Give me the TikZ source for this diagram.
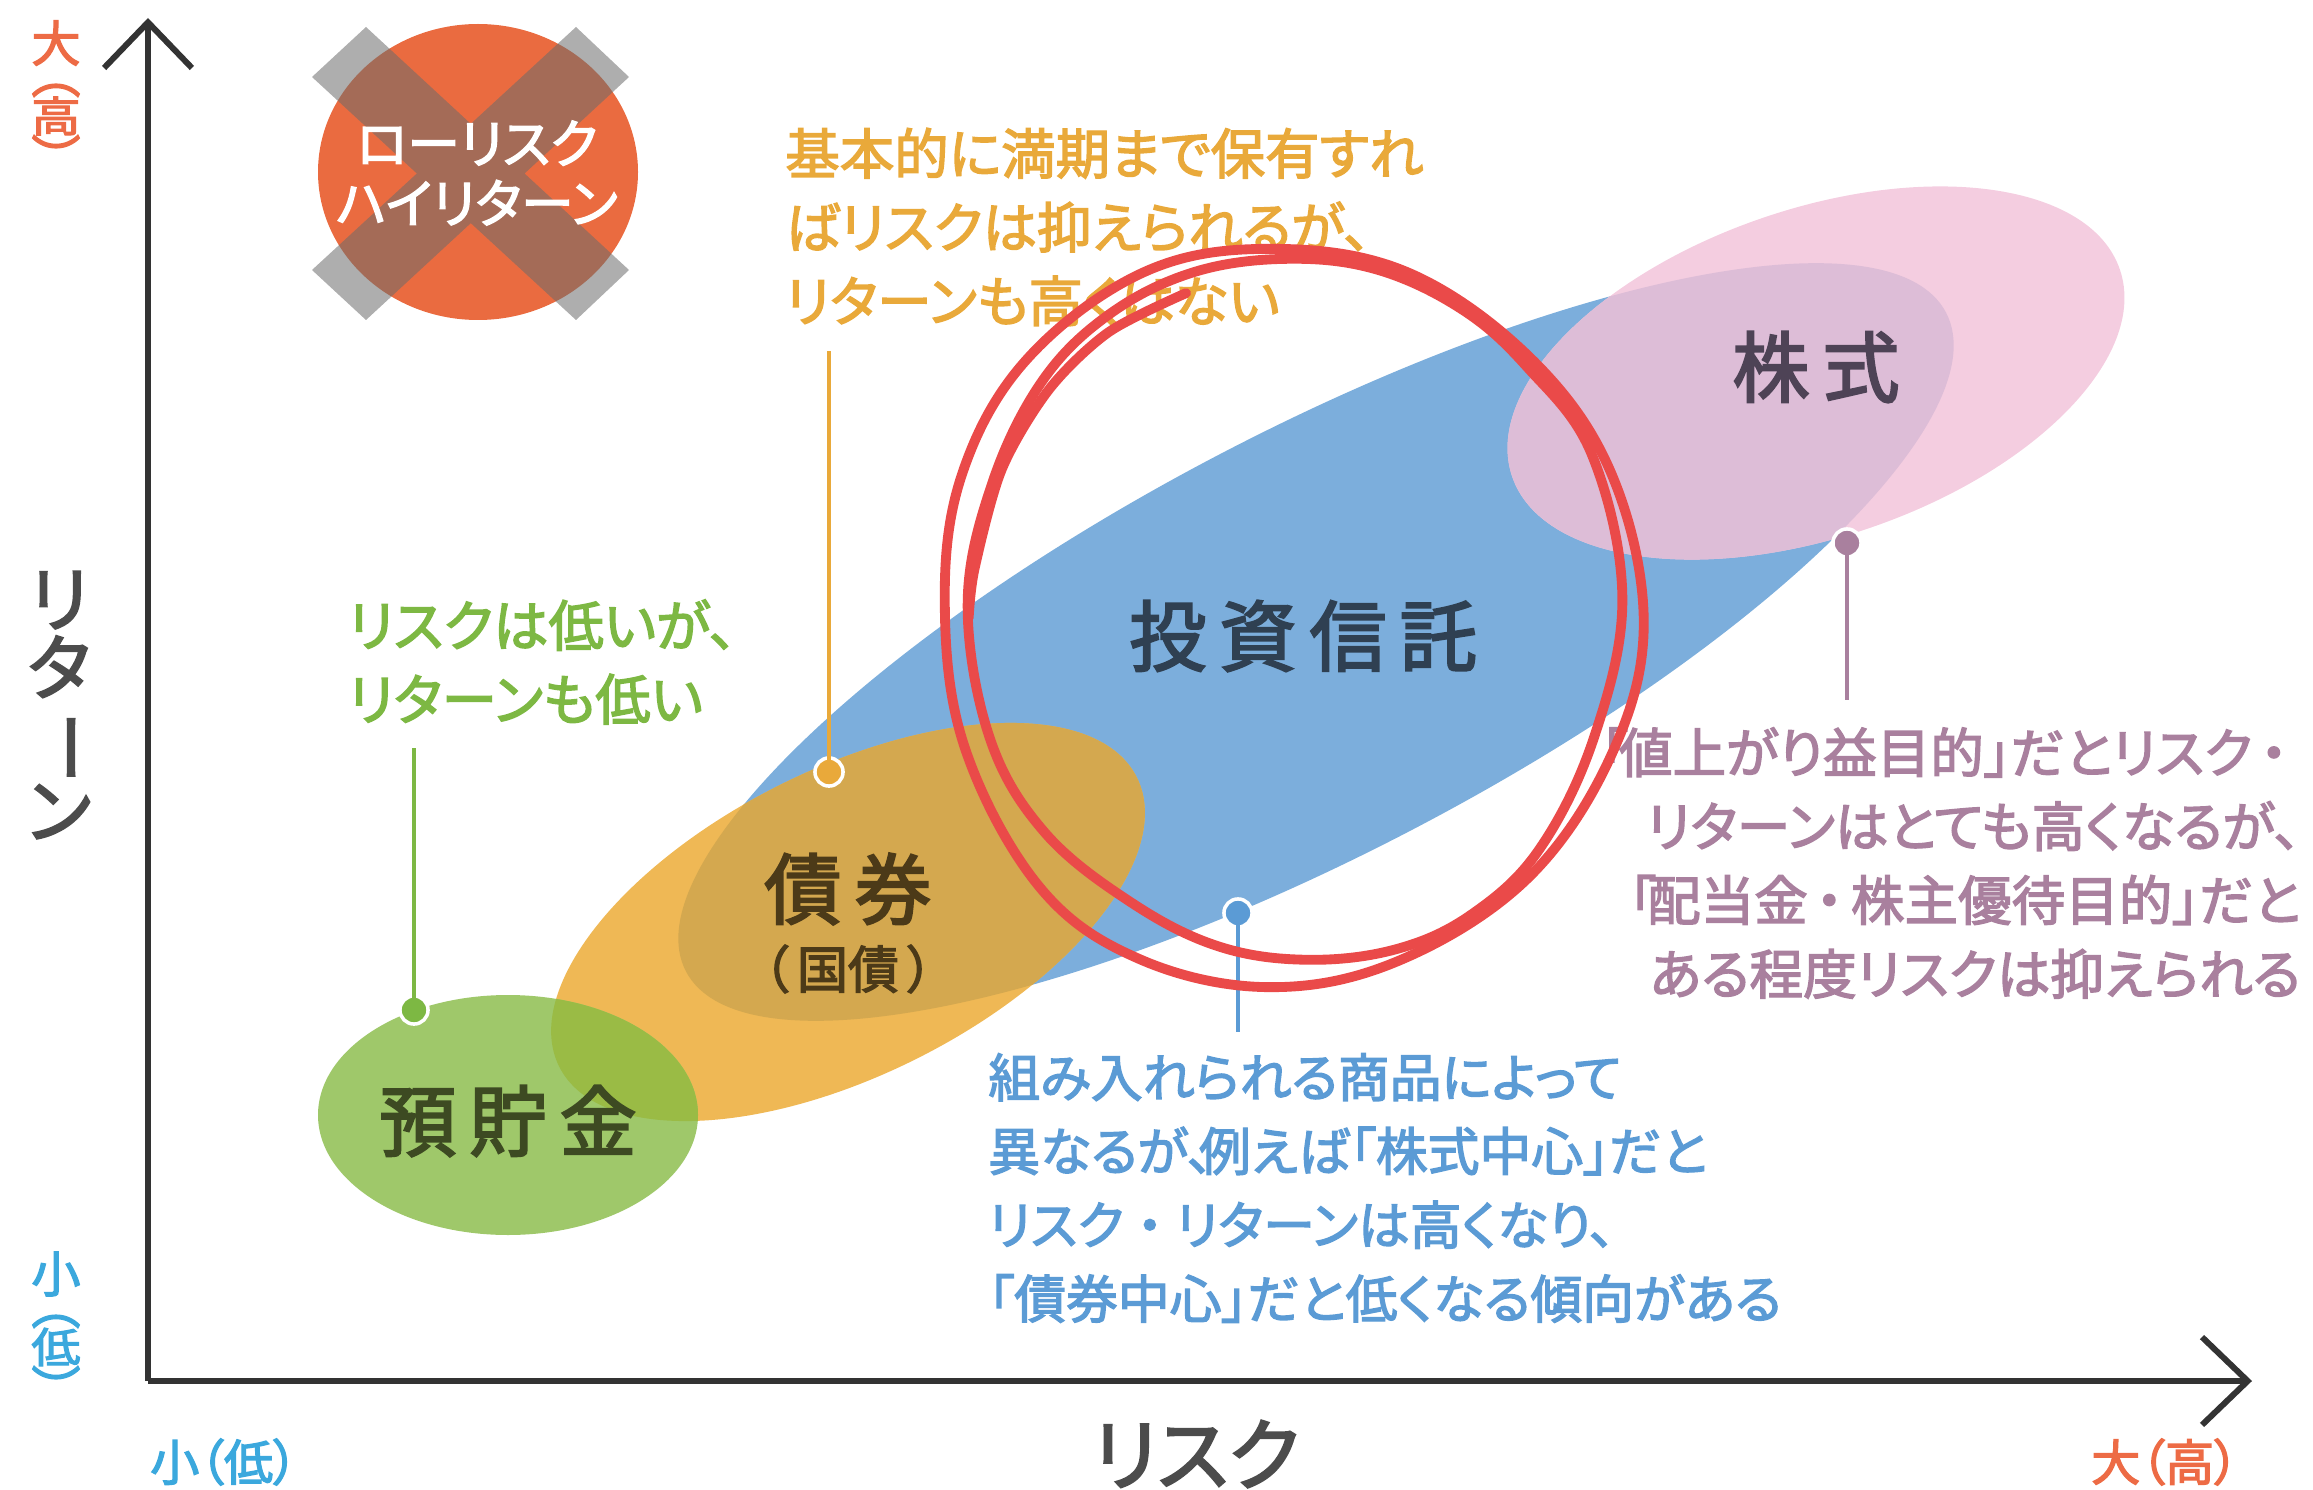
\documentclass[tikz,border=0pt]{standalone}
\usepackage{fontspec}
\usetikzlibrary{arrows.meta}
\setmainfont[RawFeature=+palt,FakeBold=2.6]{Noto Sans CJK JP}
\definecolor{trustblue}{HTML}{7CAEDC}
\definecolor{stockpink}{HTML}{F4CDE0}
\definecolor{stockover}{HTML}{DDBDD7}
\definecolor{bondorange}{HTML}{EFB855}
\definecolor{bondover}{HTML}{D4A84F}
\definecolor{savegreen}{HTML}{9FC86A}
\definecolor{saveover}{HTML}{9ABB45}
\definecolor{lowrisk}{HTML}{EA6B40}
\definecolor{circlered}{HTML}{EA4A49}
\definecolor{notegreen}{HTML}{7DB843}
\definecolor{noteorange}{HTML}{E9A93A}
\definecolor{noteblue}{HTML}{5B9BD5}
\definecolor{notepurple}{HTML}{A9809E}
\definecolor{highred}{HTML}{ED6B45}
\definecolor{lowblue}{HTML}{3BA8DD}
\definecolor{trustink}{HTML}{2F4052}
\definecolor{stockink}{HTML}{4E4356}
\definecolor{bondink}{HTML}{4C3A18}
\definecolor{saveink}{HTML}{3D4A22}
\newcommand{\trustshape}{(1316,642) ellipse [x radius=711,y radius=211,rotate=27.6]}
\newcommand{\stockshape}{(1816,373) ellipse [x radius=321,y radius=164,rotate=18.8]}
\newcommand{\bondshape}{(848,922) ellipse [x radius=323,y radius=153,rotate=26.6]}
\newcommand{\saveshape}{(508,1115) ellipse [x radius=190,y radius=120]}
\newcommand{\vparen}[1]{\rotatebox[origin=c]{-90}{#1}}
\newcommand{\dotmark}{{\addfontfeature{RawFeature=-palt}・}}
\tikzset{
  note/.style={inner sep=0pt,align=left,font=\fontsize{#1}{42}\selectfont},
  region/.style={inner sep=0pt,font=\fontsize{44}{46}\selectfont},
  scale label/.style={inner sep=0pt,font=\fontsize{28}{30}\selectfont},
  pin/.style={circle,inner sep=0pt,minimum size=16pt,line width=2pt,draw=white,fill=#1},
  pin line/.style={line width=2.4pt,#1},
  hand/.style={circlered,line width=5.6pt,line cap=round,line join=round}
}
\begin{document}
\begin{tikzpicture}[x=0.02cm,y=-0.02cm]
  \useasboundingbox (0,0) rectangle (2313,1490);

  % regions
  \fill[trustblue] \trustshape;
  \fill[stockpink] \stockshape;
  \begin{scope}
    \clip \stockshape;
    \fill[stockover] \trustshape;
  \end{scope}
  \fill[bondorange] \bondshape;
  \begin{scope}
    \clip \bondshape;
    \fill[bondover] \trustshape;
  \end{scope}
  \fill[savegreen] \saveshape;
  \begin{scope}
    \clip \saveshape;
    \fill[saveover] \bondshape;
  \end{scope}

  % crossed out corner
  \fill[lowrisk] (478,172) ellipse [x radius=160,y radius=148];
  \fill[black!58!white,fill opacity=0.55] (366,27) -- (312,77) -- (576,320) -- (629,270) -- cycle
    (576,27) -- (312,270) -- (366,320) -- (629,77) -- cycle;
  \node[inner sep=0pt,align=center,text=white,font=\fontsize{30}{34}\selectfont] (lowhigh) at (477,173) {ローリスク\\ハイリターン};

  % axes
  \coordinate (origin) at (148,1381);
  \coordinate (ytip) at (148,18);
  \coordinate (xtip) at (2252,1381);
  \draw[line width=3.4pt,black!80,-{Straight Barb[length=26pt,width=50pt,line width=3.4pt]}] (origin) -- (ytip);
  \draw[line width=3.4pt,black!80,-{Straight Barb[length=26pt,width=50pt,line width=3.4pt]}] (origin) -- (xtip);

  \node[scale label,text=highred] (high1) at (56,43) {大};
  \node[scale label,text=highred,rotate=-90] (high1a) at (56,85) {（};
  \node[scale label,text=highred,yscale=0.85] (high1b) at (56,116) {高};
  \node[scale label,text=highred,rotate=-90] (high1c) at (56,147) {）};
  \node[scale label,text=lowblue] (low1) at (56,1274) {小};
  \node[scale label,text=lowblue,rotate=-90] (low1a) at (56,1316) {（};
  \node[scale label,text=lowblue,yscale=0.85] (low1b) at (56,1347) {低};
  \node[scale label,text=lowblue,rotate=-90] (low1c) at (56,1378) {）};
  \node[scale label,text=lowblue] (low2) at (224,1462) {小（低）};
  \node[scale label,text=highred] (high2) at (2165,1462) {大（高）};
  \node[inner sep=0pt,align=center,text=black!70,font=\fontsize{41}{39}\selectfont] (returnlabel) at (59,705) {リ\\タ\\\vparen{ー}\\ン};
  \node[inner sep=0pt,text=black!70,font=\fontsize{45}{46}\selectfont] (risklabel) at (1196,1454) {リスク};

  % region names
  \node[region,text=trustink] (trust) at (1303,636) {投\,資\,信\,託};
  \node[region,text=stockink] (stock) at (1816,367) {株\,式};
  \node[region,text=bondink] (bond) at (848,889) {債\,券};
  \node[inner sep=0pt,text=bondink,font=\fontsize{29}{30}\selectfont] (bond2) at (848,969) {（\,国債\,）};
  \node[region,text=saveink] (save) at (508,1121) {預\,貯\,金};

  % notes
  \node[note=31.5,text=notegreen,anchor=west] (notegreen) at (348,662) {リスクは低いが、\\リターンも低い};
  \node[note=31,text=noteorange,anchor=west] (noteorange) at (785,227) {基本的に満期まで保有すれ\\ばリスクは抑えられるが、\\リターンも高くはない};
  \node[note=29.5,text=noteblue,anchor=west] (noteblue) at (988,1188) {組み入れられる商品によって\\異なるが、\kern-8pt 例えば「株式中心」だと\\リスク\dotmark リターンは高くなり、\\「債券中心」だと低くなる傾向がある};
  \node[note=30.5,text=notepurple,anchor=east,align=right] (notepurple) at (2301,863) {「\kern-5pt 値上がり益目的」だとリスク\kern-3pt\dotmark\\リターンはとても高くなるが、\\「\kern-5pt 配当金\kern-3pt\dotmark\kern-3pt 株主優待目的」だと\\ある程度リスクは抑えられる};

  % pins
  \node[pin=notegreen] (pingreen) at (414,1010) {};
  \node[pin=noteorange] (pinorange) at (829,772) {};
  \node[pin=noteblue] (pinblue) at (1238,913) {};
  \node[pin=notepurple] (pinpurple) at (1847,543) {};
  \coordinate (endgreen) at (414,748);
  \coordinate (endorange) at (829,351);
  \coordinate (endblue) at (1238,1032);
  \coordinate (endpurple) at (1847,700);
  \draw[pin line=notegreen] (endgreen) -- (pingreen.center);
  \draw[pin line=noteorange] (endorange) -- (pinorange.center);
  \draw[pin line=noteblue] (pinblue.center) -- (endblue);
  \draw[pin line=notepurple] (pinpurple.center) -- (endpurple);

  % hand drawn red rings
  \begin{scope}[shift={(900,220)},xscale=0.4975,yscale=0.4975]
    \draw[hand] plot[smooth cycle,tension=0.62] coordinates {(745,58) (490,105) (255,280) (125,510) (90,770) (130,1060) (280,1340) (480,1485) (740,1542) (1000,1490) (1260,1325) (1430,1075) (1495,810) (1430,510) (1270,280) (1020,105)};
    \draw[hand] plot[smooth cycle,tension=0.62] coordinates {(780,78) (590,105) (420,190) (285,325) (185,530) (136,770) (180,1040) (290,1230) (465,1372) (640,1460) (820,1487) (1000,1465) (1150,1395) (1285,1265) (1395,1040) (1452,760) (1390,470) (1260,295) (1130,180) (960,100)};
    \draw[hand] plot[smooth] coordinates {(575,147) (420,225) (300,340) (205,500) (150,700) (138,800)};
  \end{scope}
\end{tikzpicture}
\end{document}
